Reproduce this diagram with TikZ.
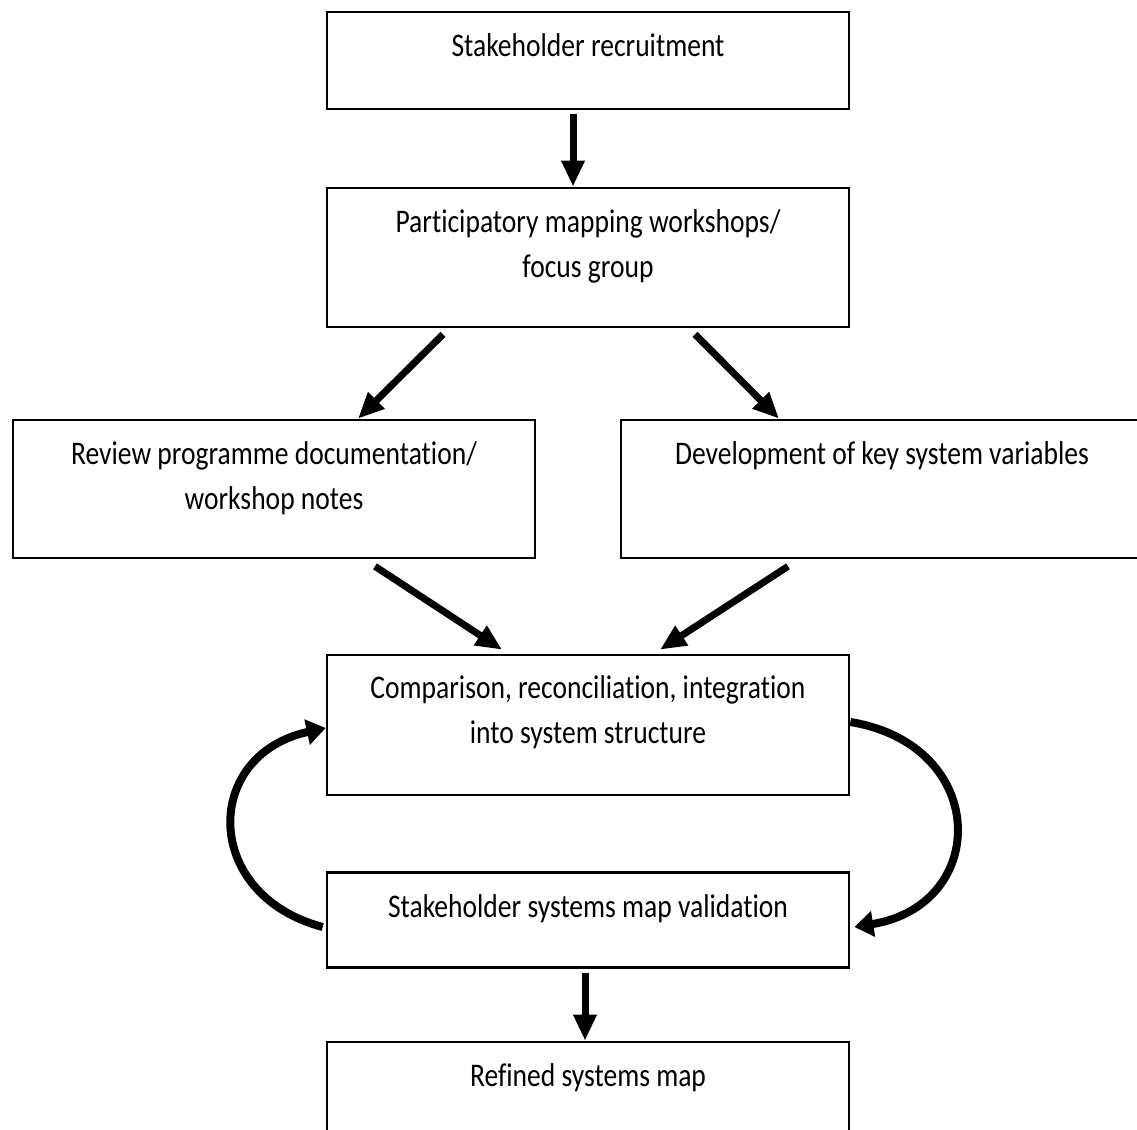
\documentclass[tikz,border=0pt]{standalone}
\usepackage{fontspec}
\setmainfont{Carlito}[FakeStretch=0.835, Ligatures=NoCommon]
\usetikzlibrary{arrows.meta,calc}
\begin{document}
\begin{tikzpicture}[x=1pt,y=-1pt,
  box/.style={draw=black, line width=2.7pt, minimum width=522pt, inner sep=0pt},
  lbl/.style={font=\fontsize{33}{45}\selectfont, align=center, inner sep=0pt},
  arr/.style={line width=7pt, -{Triangle[length=26pt,width=22pt]}},
  carr/.style={line width=8pt, -{Triangle[length=19pt,width=25pt]}}]
\useasboundingbox (0,0) rectangle (1137,1129);
\fill[white] (0,0) rectangle (1137,1129);
\clip (0,0) rectangle (1137,1129);
% boxes
\node[box, minimum height=97pt]  (b1) at (588,60.5) {};
\node[box, minimum height=139pt] (b2) at (588,257.5) {};
\node[box, minimum height=138pt] (b3) at (274,489) {};
\node[box, minimum height=138pt] (b4) at (882,489) {};
\node[box, minimum height=140pt] (b5) at (588,725) {};
\node[box, minimum height=95pt]  (b6) at (588,920) {};
\node[box, minimum height=96pt]  (b7) at (588,1090) {};
% labels (base anchor = last line)
\node[lbl, anchor=base] (t1) at ([yshift=-46pt]b1.north) {Stakeholder recruitment};
\node[lbl, anchor=base] (t2) at ([yshift=-91pt]b2.north) {Participatory mapping workshops/\\focus group};
\node[lbl, anchor=base] (t3) at ([yshift=-91pt]b3.north) {Review programme documentation/\\workshop notes};
\node[lbl, anchor=base] (t4) at ([yshift=-46pt]b4.north) {Development of key system variables};
\node[lbl, anchor=base] (t5) at ([yshift=-90pt]b5.north) {Comparison, reconciliation, integration\\into system structure};
\node[lbl, anchor=base] (t6) at ([yshift=-46pt]b6.north) {Stakeholder systems map validation};
\node[lbl, anchor=base] (t7) at ([yshift=-46pt]b7.north) {Refined systems map};
% straight arrows
\draw[arr] ([xshift=-15pt,yshift=-4pt]b1.south) -- ([xshift=-15pt]b2.north);
\draw[arr] ([xshift=-145pt,yshift=-6pt]b2.south) -- ([xshift=84pt]b3.north);
\draw[arr] ([xshift=107pt,yshift=-6pt]b2.south) -- ([xshift=-103pt]b4.north);
\draw[arr] ([xshift=101pt,yshift=-7pt]b3.south) -- ([xshift=-86pt,yshift=4pt]b5.north);
\draw[arr] ([xshift=-94pt,yshift=-7pt]b4.south) -- ([xshift=72pt,yshift=4pt]b5.north);
\draw[arr] ([xshift=-3pt,yshift=-4pt]b6.south) -- ([xshift=-3pt]b7.north);
% loop arrows
\draw[carr] ([xshift=-3pt,yshift=-7pt]b6.west) .. controls (202,895) and (202,755) .. ([yshift=-3pt]b5.west);
\draw[carr] ([yshift=3pt]b5.east) .. controls (990,745) and (990,905) .. ([xshift=4pt,yshift=-7pt]b6.east);
\end{tikzpicture}
\end{document}
